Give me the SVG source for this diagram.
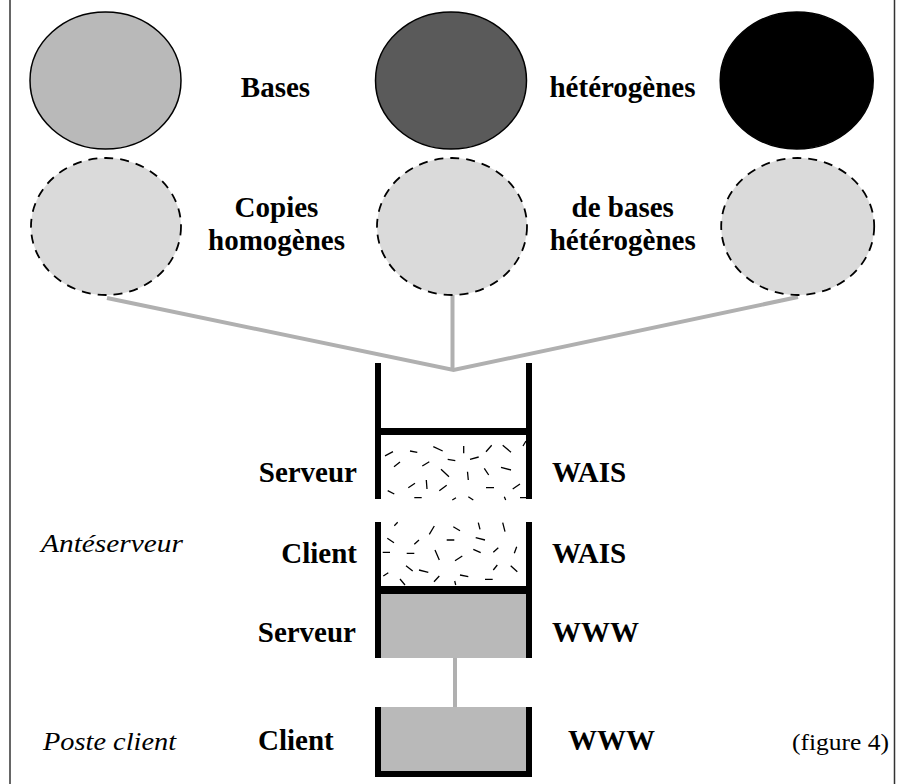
<svg xmlns="http://www.w3.org/2000/svg" width="903" height="784" viewBox="0 0 903 784">
<style>
.lbl{font-family:"Liberation Serif","Times New Roman",serif;font-weight:bold;font-size:29px;fill:#000}
.ital{font-family:"Liberation Serif","Times New Roman",serif;font-style:italic;font-size:26px;fill:#000}
.cap{font-family:"Liberation Serif","Times New Roman",serif;font-size:23px;fill:#000}
.solid{stroke:#000;stroke-width:1.5}
.copy{fill:#dadada;stroke:#000;stroke-width:1.8;stroke-dasharray:9 7}
.conn{stroke:#b0b0b0;stroke-width:4;fill:none;stroke-linejoin:miter}
.bar{fill:#000}
.dash{stroke:#000;stroke-width:1.3;fill:none}
</style>
<rect x="0" y="0" width="903" height="784" fill="#fff"/>
<g id="frame">
<line x1="10" y1="0" x2="10" y2="784" stroke="#333" stroke-width="1.5"/>
<line x1="894.5" y1="0" x2="894.5" y2="784" stroke="#333" stroke-width="1.5"/>
</g>
<g id="connectors">
<polyline class="conn" points="107,298 453.5,370 798,297"/>
<line class="conn" x1="452.5" y1="295" x2="452.5" y2="370"/>
<line x1="455" y1="658" x2="455" y2="708" stroke="#b0b0b0" stroke-width="4"/>
</g>
<g id="base1"><ellipse class="solid" cx="105.5" cy="80.5" rx="75.5" ry="68.5" fill="#b9b9b9"/></g>
<g id="base2"><ellipse class="solid" cx="451" cy="80.5" rx="75.5" ry="68.5" fill="#5a5a5a"/></g>
<g id="base3"><ellipse class="solid" cx="796.7" cy="80.5" rx="76.5" ry="68.5" fill="#000"/></g>
<g id="copy1"><ellipse class="copy" cx="106" cy="226.5" rx="75" ry="68.5"/></g>
<g id="copy2"><ellipse class="copy" cx="452" cy="226.5" rx="75" ry="68.5"/></g>
<g id="copy3"><ellipse class="copy" cx="797.7" cy="226.5" rx="76.5" ry="68.5"/></g>
<g id="labels-top">
<text class="lbl" x="275.5" y="96.5" text-anchor="middle">Bases</text>
<text class="lbl" x="622.5" y="96.5" text-anchor="middle">hétérogènes</text>
<text class="lbl" x="276.5" y="216.5" text-anchor="middle">Copies</text>
<text class="lbl" x="276.5" y="250" text-anchor="middle">homogènes</text>
<text class="lbl" x="622.7" y="216.5" text-anchor="middle">de bases</text>
<text class="lbl" x="622.7" y="250" text-anchor="middle">hétérogènes</text>
</g>
<g id="serveur-wais">
<rect class="bar" x="375" y="363" width="6" height="136"/>
<rect class="bar" x="526" y="363" width="6" height="136"/>
<rect class="bar" x="375" y="428" width="157" height="7"/>
<path class="dash" d="M385,455.8L393,451.7M410,451L417.3,452.3M433.3,446.7L442.7,451M463.7,446L463.7,453.3M486,451.7L491.7,445.3M502.7,445.3L511,452.3M394,466.7L400,462M422.3,466L429.3,461.7M447.7,459.3L455.3,460.7M470,459.3L478.7,457M441,469.3L449,476.7M467.5,471.7L468.3,480M484.3,468.3L488.7,475M501,467.3L511,470M408.3,487.7L415,483.3M426.3,480L427,489M439.3,490.7L446.7,485.3M387.7,490.7L394.3,494M486,487.7L494,487.7M512.7,489L520,484M414.3,497.7L421.7,497.7M452.3,500L456,497.7M468.3,496.7L473.3,500M504.3,496.7L505.7,500M520,497.7L526,497.7M523,446L526,441"/>
</g>
<g id="client-wais">
<rect class="bar" x="375" y="522" width="6" height="72"/>
<rect class="bar" x="526" y="522" width="6" height="72"/>
<path class="dash" d="M394.3,525.7L397.7,522.3M429.3,534.3L434.3,526M453.3,526.7L460,530.7M478.3,522.7L480,529.3M502.7,522.7L505,531.7M387.3,538.3L394,542.7M414.3,544.3L419,540M446.7,540L454.3,540M475.7,537.7L485,540M382.7,552.3L390,552.3M406.7,553.3L414.3,553.3M435,550L439.3,560M473.3,549.3L480.7,552.7M493.3,552.3L498.3,547.7M514.3,553.3L516.7,546.7M455,560.7L462.3,556M406,565.7L412.7,571M419,570L428.3,572.3M493.3,570L497.3,565M510.7,565.7L517.3,571.7M383.3,576L388.3,572.7M400,579L405,585M434,581.7L439.3,576M460,575L468.3,576.7M485,579.3L492.7,579.3M454.7,581L455.7,585"/>
</g>
<g id="serveur-www">
<rect x="381" y="594" width="145" height="64" fill="#b9b9b9"/>
<rect class="bar" x="375" y="586" width="157" height="8"/>
<rect class="bar" x="375" y="594" width="6" height="64"/>
<rect class="bar" x="526" y="594" width="6" height="64"/>
</g>
<g id="client-www">
<rect x="381" y="707" width="145" height="64" fill="#b9b9b9"/>
<rect class="bar" x="375" y="707" width="6" height="70"/>
<rect class="bar" x="526" y="707" width="6" height="70"/>
<rect class="bar" x="375" y="771" width="157" height="6"/>
</g>
<g id="labels-stack">
<text class="lbl" x="357" y="482" text-anchor="end">Serveur</text>
<text class="lbl" x="552" y="482">WAIS</text>
<text class="lbl" x="357" y="562.5" text-anchor="end">Client</text>
<text class="lbl" x="552" y="562.5">WAIS</text>
<text class="lbl" x="356" y="641.5" text-anchor="end">Serveur</text>
<text class="lbl" x="552" y="641.5">WWW</text>
<text class="lbl" x="258" y="750">Client</text>
<text class="lbl" x="568" y="750">WWW</text>
<text class="ital" x="41" y="551.5" textLength="142" lengthAdjust="spacingAndGlyphs">Antéserveur</text>
<text class="ital" x="43" y="750" textLength="133" lengthAdjust="spacingAndGlyphs">Poste client</text>
<text class="cap" x="792" y="750" textLength="97" lengthAdjust="spacingAndGlyphs">(figure 4)</text>
</g>
</svg>
